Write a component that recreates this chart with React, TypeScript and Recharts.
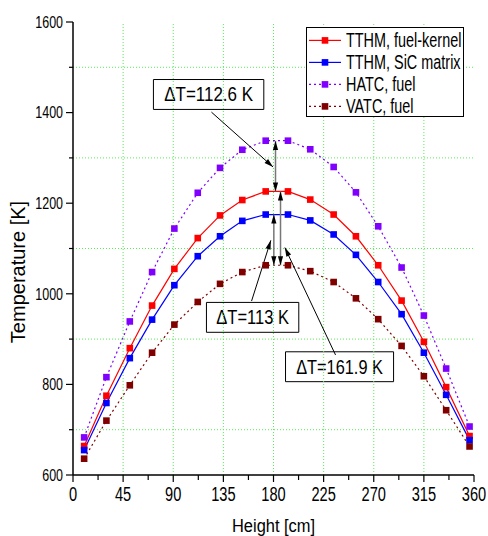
import React from 'react';
import { LineChart, Line, XAxis, YAxis, ReferenceLine, ReferenceArea, Legend } from 'recharts';

const FONT = '"Liberation Sans", Arial, sans-serif';

// Heights [cm]
const heights = [10, 30, 51, 71, 91, 112, 132, 152, 173, 193, 213, 234, 254, 274, 295, 315, 335, 356];
// Temperatures [K]
const tthmFuel = [664, 775, 880, 974, 1055, 1123, 1173, 1207, 1226, 1226, 1208, 1175, 1127, 1063, 985, 894, 794, 686];
const tthmSiC = [655, 759, 858, 943, 1019, 1083, 1127, 1161, 1175, 1175, 1162, 1131, 1086, 1026, 955, 870, 777, 677];
const hatcFuel = [683, 816, 939, 1048, 1144, 1223, 1278, 1318, 1338, 1338, 1319, 1280, 1224, 1149, 1058, 952, 835, 707];
const vatcFuel = [636, 720, 798, 870, 932, 982, 1022, 1048, 1063, 1063, 1050, 1026, 990, 944, 885, 818, 743, 663];

const seriesNames = ['TTHM, fuel-kernel', 'TTHM, SiC matrix', 'HATC, fuel', 'VATC, fuel'];
const seriesColors = ['#ff0000', '#0000ff', '#8000ff', '#800000'];
const seriesDash = ['', '', '2 3', '2 3'];

const xTicks = [0, 22.5, 45, 67.5, 90, 112.5, 135, 157.5, 180, 202.5, 225, 247.5, 270, 292.5, 315, 337.5, 360];
const yTicks = [600, 700, 800, 900, 1000, 1100, 1200, 1300, 1400, 1500, 1600];
const gridX = [45, 90, 135, 180, 225, 270, 315];
const gridY = [700, 900, 1100, 1300, 1500];

const deltaLabels = ['\u0394T=112.6 K', '\u0394T=113 K', '\u0394T=161.9 K'];

const data = heights.map((h, i) => ({
  h,
  a: tthmFuel[i],
  b: tthmSiC[i],
  c: hatcFuel[i],
  d: vatcFuel[i],
}));
const keys = ['a', 'b', 'c', 'd'];

const XTick = (props: any) => {
  const { x, y, payload } = props;
  const v = payload.value;
  const major = v % 45 === 0;
  return (
    <g>
      <line x1={x} x2={x} y1={y} y2={y + (major ? 7 : 5)} stroke="#000" strokeWidth={1.2} />
      {major && (
        <text transform={`translate(${x},${y + 26}) scale(0.75,1)`} textAnchor="middle" fontSize={19.5} fontFamily={FONT} fill="#000">
          {v}
        </text>
      )}
    </g>
  );
};

const YTick = (props: any) => {
  const { x, y, payload } = props;
  const v = payload.value;
  const major = v % 200 === 0;
  return (
    <g>
      <line x1={x - (major ? 7 : 4)} x2={x} y1={y} y2={y} stroke="#000" strokeWidth={1.2} />
      {major && (
        <text transform={`translate(${x - 10},${y + 5.7}) scale(0.78,1)`} textAnchor="end" fontSize={16} fontFamily={FONT} fill="#000">
          {v}
        </text>
      )}
    </g>
  );
};

const TopTick = (props: any) => {
  const { x, y, payload } = props;
  const major = payload.value % 45 === 0;
  return <line x1={x} x2={x} y1={y} y2={y + (major ? 6 : 4)} stroke="#000" strokeWidth={1.2} />;
};

const RightTick = (props: any) => {
  const { x, y, payload } = props;
  const major = payload.value % 200 === 0;
  return <line x1={x - (major ? 6 : 4)} x2={x} y1={y} y2={y} stroke="#000" strokeWidth={1.2} />;
};

const makeDot = (color: string) => (p: any) => {
  const { cx, cy, index } = p;
  if (cx == null || cy == null) return <g key={index} />;
  return <rect key={index} x={cx - 3.3} y={cy - 3.3} width={6.6} height={6.6} fill={color} />;
};

const headPts = (xa: number, ya: number, xb: number, yb: number) => {
  const dx = xb - xa;
  const dy = yb - ya;
  const len = Math.hypot(dx, dy) || 1;
  const ux = dx / len;
  const uy = dy / len;
  const L = 9;
  const W = 2.6;
  const bx = xb - ux * L;
  const by = yb - uy * L;
  return `${xb},${yb} ${bx - uy * W},${by + ux * W} ${bx + uy * W},${by - ux * W}`;
};

const arrowShape = (color: string, both: boolean, sw: number) => (p: any) => {
  const { x1, y1, x2, y2 } = p;
  return (
    <g>
      <line x1={x1} y1={y1} x2={x2} y2={y2} stroke={color} strokeWidth={sw} />
      <polygon points={headPts(x1, y1, x2, y2)} fill="#000" />
      {both && <polygon points={headPts(x2, y2, x1, y1)} fill="#000" />}
    </g>
  );
};

const boxLabel = (text: string, len: number) => (p: any) => {
  const vb = p.viewBox || {};
  return (
    <text
      x={vb.x + vb.width / 2}
      y={vb.y + vb.height / 2 + 7}
      textAnchor="middle"
      fontSize={19.5}
      fontFamily={FONT}
      fill="#000"
      textLength={len}
      lengthAdjust="spacingAndGlyphs"
    >
      {text}
    </text>
  );
};

const LegendBox = () => (
  <svg width={158} height={90} style={{ display: 'block' }}>
    <rect x={0.5} y={0.5} width={157} height={89} fill="#fff" stroke="#000" strokeWidth={1} />
    {seriesNames.map((n, i) => {
      const y = 13.4 + 22 * i;
      return (
        <g key={n}>
          <line x1={3} x2={35} y1={y} y2={y} stroke={seriesColors[i]} strokeWidth={1.2} strokeDasharray={seriesDash[i] || undefined} />
          <rect x={19 - 3.3} y={y - 3.3} width={6.6} height={6.6} fill={seriesColors[i]} />
          <text transform={`translate(40,${y + 7}) scale(0.74,1)`} fontSize={19.5} fontFamily={FONT} fill="#000">
            {n}
          </text>
        </g>
      );
    })}
  </svg>
);

export default function App() {
  return (
    <div style={{ width: 480, height: 528, paddingLeft: 8, paddingTop: 8 }}>
      <style>{'body{margin:0}'}</style>
      <LineChart width={480} height={528} data={data} margin={{ top: 14, right: 14, bottom: 0, left: 0 }}>
        <XAxis
          dataKey="h"
          type="number"
          domain={[0, 360]}
          ticks={xTicks}
          interval={0}
          tickSize={0}
          tickMargin={0}
          tickLine={false}
          tick={<XTick />}
          height={61}
          axisLine={{ stroke: '#000', strokeWidth: 1.5 }}
          allowDataOverflow
        />
        <XAxis
          xAxisId="top"
          orientation="top"
          type="number"
          domain={[0, 360]}
          ticks={xTicks}
          interval={0}
          tickSize={0}
          tickMargin={0}
          tickLine={false}
          tick={<TopTick />}
          height={0}
          axisLine={{ stroke: '#000', strokeWidth: 1.5 }}
          allowDataOverflow
        />
        <YAxis
          type="number"
          domain={[600, 1600]}
          ticks={yTicks}
          interval={0}
          tickSize={0}
          tickMargin={0}
          tickLine={false}
          tick={<YTick />}
          width={65}
          axisLine={{ stroke: '#000', strokeWidth: 1.5 }}
          allowDataOverflow
        />
        <YAxis
          yAxisId="right"
          orientation="right"
          type="number"
          domain={[600, 1600]}
          ticks={yTicks}
          interval={0}
          tickSize={0}
          tickMargin={0}
          tickLine={false}
          tick={<RightTick />}
          width={0}
          axisLine={{ stroke: '#000', strokeWidth: 1.5 }}
          allowDataOverflow
        />
        {gridX.map((v) => (
          <ReferenceLine key={'gx' + v} x={v} stroke="#55ee55" strokeDasharray="1 2" strokeWidth={1} />
        ))}
        {gridY.map((v) => (
          <ReferenceLine key={'gy' + v} y={v} stroke="#55ee55" strokeDasharray="1 2" strokeWidth={1} />
        ))}
        {keys.map((k, i) => (
          <Line
            key={k}
            dataKey={k}
            name={seriesNames[i]}
            type="linear"
            stroke={seriesColors[i]}
            strokeWidth={1.2}
            strokeDasharray={seriesDash[i] || undefined}
            dot={makeDot(seriesColors[i])}
            activeDot={false}
            isAnimationActive={false}
          />
        ))}
        {/* vertical double arrows */}
        <ReferenceLine segment={[{ x: 181.8, y: 1337.5 }, { x: 181.8, y: 1226 }]} shape={arrowShape('#777', true, 1.5)} />
        <ReferenceLine segment={[{ x: 180.3, y: 1175 }, { x: 180.3, y: 1063 }]} shape={arrowShape('#777', true, 1.5)} />
        <ReferenceLine segment={[{ x: 186.3, y: 1226 }, { x: 186.3, y: 1063 }]} shape={arrowShape('#777', true, 1.5)} />
        {/* label pointer arrows */}
        <ReferenceLine segment={[{ x: 124.3, y: 1401 }, { x: 179.6, y: 1280 }]} shape={arrowShape('#000', false, 1)} />
        <ReferenceLine segment={[{ x: 160.3, y: 984 }, { x: 177.6, y: 1118 }]} shape={arrowShape('#000', false, 1)} />
        <ReferenceLine segment={[{ x: 235.7, y: 865 }, { x: 190.2, y: 1102 }]} shape={arrowShape('#000', false, 1)} />
        {/* label boxes */}
        <ReferenceArea x1={72.2} x2={171.3} y1={1407} y2={1473} fill="#fff" fillOpacity={1} stroke="#000" strokeWidth={1} label={boxLabel(deltaLabels[0], 88.7)} />
        <ReferenceArea x1={119.8} x2={202.7} y1={915} y2={981} fill="#fff" fillOpacity={1} stroke="#000" strokeWidth={1} label={boxLabel(deltaLabels[1], 72.6)} />
        <ReferenceArea x1={190.8} x2={287.8} y1={806} y2={872} fill="#fff" fillOpacity={1} stroke="#000" strokeWidth={1} label={boxLabel(deltaLabels[2], 86.7)} />
        <Legend
          layout="horizontal"
          verticalAlign="middle"
          align="center"
          wrapperStyle={{ position: 'absolute', left: 298, top: 19, width: 158, height: 90, margin: 0, padding: 0 }}
          content={() => <LegendBox />}
        />
        <text x={265.5} y={524} textAnchor="middle" fontSize={18} fontFamily={FONT} fill="#000" textLength={83} lengthAdjust="spacingAndGlyphs">
          Height [cm]
        </text>
        <text transform="translate(17,264) rotate(-90)" textAnchor="middle" fontSize={20} fontFamily={FONT} fill="#000">
          Temperature [K]
        </text>
      </LineChart>
    </div>
  );
}
